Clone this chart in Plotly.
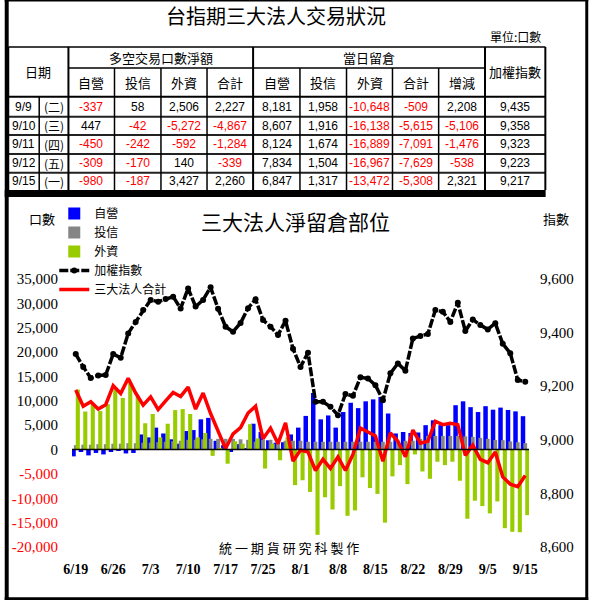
import plotly.graph_objects as go

# ---------------- chart data ----------------
dates = ["6/19", "6/20", "6/23", "6/24", "6/25", "6/26", "6/27", "6/30", "7/1", "7/2",
         "7/3", "7/4", "7/7", "7/8", "7/9", "7/10", "7/11", "7/14", "7/15", "7/16",
         "7/17", "7/18", "7/21", "7/22", "7/24", "7/25", "7/28", "7/29", "7/30", "7/31",
         "8/1", "8/4", "8/5", "8/6", "8/7", "8/8", "8/11", "8/12", "8/13", "8/14",
         "8/15", "8/18", "8/19", "8/20", "8/21", "8/22", "8/25", "8/26", "8/27", "8/28",
         "8/29", "9/1", "9/2", "9/3", "9/4", "9/5", "9/9", "9/10", "9/11", "9/12", "9/15"]

prop_oi = [-1400, -500, -1200, -700, -1000, -500, -200, -800, -700, 3100,
           2500, 4500, 3300, 2100, 1200, 3800, 4000, 6200, 6500, 1800,
           900, -500, 1100, 300, 5300, 3600, 1900, 1400, 1500, 3100,
           4500, 6900, 11600, 6200, 7000, 4500, 7700, 9600, 8500, 9900,
           10300, 10800, 7400, 3300, 3600, 3400, 3500, 5000, 6000, 5000,
           5000, 9100, 9900, 8700, 7700, 8900, 8181, 8607, 8124, 7834, 6847]

trust_oi = [900, 1000, 1000, 1100, 1100, 1200, 1200, 1300, 1300, 1400,
            1400, 1500, 1600, 1700, 1800, 2000, 2000, 2100, 2200, 2200,
            2200, 2200, 2100, 2000, 1600, 2000, 2000, 2000, 1800, 1800,
            1800, 1600, 1600, 1600, 1600, 1600, 1600, 1600, 1600, 1600,
            1600, 1600, 1600, 1600, 1800, 1800, 2200, 2800, 2800, 2800,
            2800, 2800, 2700, 2600, 2400, 2200, 1958, 1916, 1674, 1504, 1317]

foreign_oi = [12300, 7800, 9500, 7900, 9300, 12300, 10600, 13600, 11000, 5400,
              7300, 2500, 5300, 8100, 8300, 7300, 2500, 3400, -1300, 300,
              -2900, 1700, 1200, 5200, 2300, -3900, 1200, -2200, 2500, -7300,
              -6300, -8700, -17500, -9800, -12300, -7500, -13600, -12500, -5700, -7900,
              -9100, -15000, -5500, -3200, -7100, -1000, -4500, -6000, -2500, -3200,
              -2500, -6400, -14200, -10500, -11600, -13100, -10648, -16138, -16889, -16967, -13472]

total_oi = [12200, 8900, 9800, 8300, 9200, 13100, 11500, 14600, 11600, 9100,
            10800, 8200, 10000, 11700, 10900, 12800, 8300, 11600, 7400, 4000,
            200, 3200, 4500, 7500, 8900, 2200, 4400, 1200, 5500, -2400,
            -100, -500, -4300, -2000, -3900, -1500, -4300, -1000, 4400, 3600,
            2800, -2400, 3400, 1700, -1500, 4000, 1300, 1700, 5800, 5100,
            5400, 5100, -1200, 900, -2000, -2700, -509, -5615, -7091, -7629, -5308]

taiex = [9320, 9272, 9231, 9240, 9242, 9320, 9306, 9397, 9440, 9484,
         9522, 9515, 9525, 9534, 9490, 9565, 9497, 9522, 9569, 9489,
         9422, 9403, 9436, 9491, 9524, 9447, 9422, 9391, 9444, 9340,
         9272, 9325, 9142, 9142, 9123, 9092, 9171, 9164, 9233, 9229,
         9204, 9148, 9248, 9285, 9258, 9378, 9387, 9395, 9484, 9478,
         9440, 9511, 9406, 9449, 9428, 9412, 9435, 9358, 9323, 9223, 9217]

x_tick_dates = dates[::5]
y_ticks = list(range(-20000, 35001, 5000))
y2_ticks = list(range(8600, 9601, 200))

# ---------------- table data ----------------
tbl_dates = ["9/9", "9/10", "9/11", "9/12", "9/15"]
tbl_weekdays = ["(二)", "(三)", "(四)", "(五)", "(一)"]
trade_prop = [-337, 447, -450, -309, -980]
trade_trust = [58, -42, -242, -170, -187]
trade_foreign = [2506, -5272, -592, 140, 3427]
trade_total = [2227, -4867, -1284, -339, 2260]
oi_prop = [8181, 8607, 8124, 7834, 6847]
oi_trust = [1958, 1916, 1674, 1504, 1317]
oi_foreign = [-10648, -16138, -16889, -16967, -13472]
oi_total = [-509, -5615, -7091, -7629, -5308]
oi_change = [2208, -5106, -1476, -538, 2321]
index_close = [9435, 9358, 9323, 9223, 9217]
sub_headers = ["自營", "投信", "外資", "合計", "自營", "投信", "外資", "合計", "增減"]

# ---------------- geometry helpers ----------------
W, H = 593, 600
L, R, T, B = 67.9, 529.2, 278.9, 546.7
CJK = "Noto Sans CJK TC"
SERIF = "Liberation Serif"


def px(x):
    return (x - L) / (R - L)


def py(y):
    return (B - y) / (B - T)


fig = go.Figure()
fig.add_trace(go.Bar(x=dates, y=prop_oi, name="自營", marker=dict(color="#0000FF", line=dict(width=0)),
                     offset=-0.6, width=0.6, legendgroup="a"))
fig.add_trace(go.Bar(x=dates, y=trust_oi, name="投信", marker=dict(color="#858585", line=dict(width=0)),
                     offset=-0.25, width=0.5, legendgroup="b"))
fig.add_trace(go.Bar(x=dates, y=foreign_oi, name="外資", marker=dict(color="#99CC00", line=dict(width=0)),
                     offset=0.0, width=0.55, legendgroup="c"))
fig.add_trace(go.Scatter(x=dates, y=taiex, name="加權指數", yaxis="y2", mode="lines+markers",
                         line=dict(color="black", width=3.5, dash="9px,2px"),
                         marker=dict(size=6, color="black"), legendgroup="d"))
fig.add_trace(go.Scatter(x=dates, y=total_oi, name="三大法人合計", mode="lines",
                         line=dict(color="#FF0000", width=3.5), legendgroup="e"))

ytext = []
for v in y_ticks:
    s = f"{v:,}"
    ytext.append(f'<span style="color:#FF0000">{s}</span>' if v < 0 else s)

shapes = []
annotations = []


def line(x0, y0, x1, y1, w=1.5, color="black"):
    shapes.append(dict(type="line", xref="paper", yref="paper", x0=px(x0), y0=py(y0),
                       x1=px(x1), y1=py(y1), line=dict(color=color, width=w), layer="above"))


def rect(x0, y0, x1, y1, color="black"):
    shapes.append(dict(type="rect", xref="paper", yref="paper", x0=px(x0), y0=py(y0),
                       x1=px(x1), y1=py(y1), line=dict(width=0), fillcolor=color, layer="above"))


def txt(x, y, s, size=13, family=CJK, color="black", xanchor="center"):
    annotations.append(dict(x=px(x), y=py(y), xref="paper", yref="paper", text=s, showarrow=False,
                            xanchor=xanchor, yanchor="middle",
                            font=dict(size=size, family=family, color=color)))


# zero line of the chart
shapes.append(dict(type="line", xref="paper", yref="y", x0=0, x1=1, y0=0, y1=0,
                   line=dict(color="black", width=1.5), layer="above"))

# outer frame
rect(0, 0, 4, 600)
rect(0, 0, 589, 1.5)
rect(586, 0, 589, 600)
rect(0, 597, 589, 600)

# ---------------- table ----------------
col_x = [3.8, 64.3, 110.8, 157.7, 204.2, 250.7, 298.0, 345.0, 391.4, 438.0, 484.8, 545.7]
split_x = 34.8
y_top, y_mid, y_hdr = 47, 68, 96.7
row_y = [96.7, 116.7, 135.0, 154.0, 172.7, 190.0]

line(3.8, y_top, 545.7, y_top, 1.5)
line(64.3, y_mid, 484.8, y_mid, 1.5)
line(3.8, y_hdr, 545.7, y_hdr, 2)
for yy in row_y[1:-1]:
    line(3.8, yy, 545.7, yy, 2, "#222222")
rect(0, 190, 546, 197)
for i, xx in enumerate(col_x):
    top = y_top if i in (0, 1, 5, 10, 11) else y_mid
    line(xx, top, xx, 190, 2 if i in (1, 5, 10, 11) else 1.5)
line(split_x, y_hdr, split_x, 190, 1.5)

txt(274, 16, "台指期三大法人交易狀況", size=20)
txt(543, 37, "單位:口數", size=12, xanchor="right")
txt(34, 72, "日期", size=13)
txt((col_x[1] + col_x[5]) / 2, 57.5, "多空交易口數淨額", size=13)
txt((col_x[5] + col_x[10]) / 2, 57.5, "當日留倉", size=13)
txt((col_x[10] + col_x[11]) / 2, 72, "加權指數", size=13)
for j, h in enumerate(sub_headers):
    txt((col_x[j + 1] + col_x[j + 2]) / 2, 82.5, h, size=13)

columns = [trade_prop, trade_trust, trade_foreign, trade_total,
           oi_prop, oi_trust, oi_foreign, oi_total, oi_change, index_close]
for r in range(len(tbl_dates)):
    cy = (row_y[r] + row_y[r + 1]) / 2
    txt((3.8 + split_x) / 2, cy, tbl_dates[r], size=12, family="Liberation Sans")
    txt((split_x + 64.3) / 2, cy, tbl_weekdays[r], size=12)
    for c, col in enumerate(columns):
        v = col[r]
        txt((col_x[c + 1] + col_x[c + 2]) / 2, cy, f"{v:,}", size=12, family="Liberation Sans",
            color="#FF0000" if v < 0 else "black")

# ---------------- chart texts ----------------
txt(293, 221, "三大法人淨留倉部位", size=21)
txt(38, 218, "口數", size=13)
txt(556, 218, "指數", size=13)
txt(287, 547, "統 一 期 貨 研 究 科 製 作", size=13)

fig.update_layout(
    width=W, height=H,
    margin=dict(l=L, r=W - R, t=T, b=H - B, pad=0),
    barmode="overlay",
    plot_bgcolor="white", paper_bgcolor="white",
    showlegend=True,
    legend=dict(x=px(50), y=py(199), xanchor="left", yanchor="top", orientation="v",
                font=dict(size=12, family=CJK, color="black"), bgcolor="rgba(0,0,0,0)",
                itemwidth=30, tracegroupgap=1.5, traceorder="normal"),
    xaxis=dict(type="category", range=[-0.5, len(dates) - 0.5], tickmode="array",
               tickvals=x_tick_dates, ticktext=[f"<b>{d}</b>" for d in x_tick_dates],
               showgrid=False, showline=False, zeroline=False, ticks="",
               tickfont=dict(family=SERIF, size=14, color="black"), ticklabelstandoff=12),
    yaxis=dict(range=[-20000, 35000], tickmode="array", tickvals=y_ticks, ticktext=ytext,
               showgrid=False, showline=False, zeroline=False, ticks="",
               tickfont=dict(family=SERIF, size=15, color="black"), ticklabelstandoff=13),
    yaxis2=dict(overlaying="y", side="right", range=[8600, 9600], tickmode="array",
                tickvals=y2_ticks, ticktext=[f"{v:,}" for v in y2_ticks],
                showgrid=False, showline=False, zeroline=False, ticks="",
                tickfont=dict(family=SERIF, size=15, color="black"), ticklabelstandoff=10),
    shapes=shapes,
    annotations=annotations,
)

fig.write_html("out.html", config={"displayModeBar": False},
               post_script="document.body.style.margin='0';")
